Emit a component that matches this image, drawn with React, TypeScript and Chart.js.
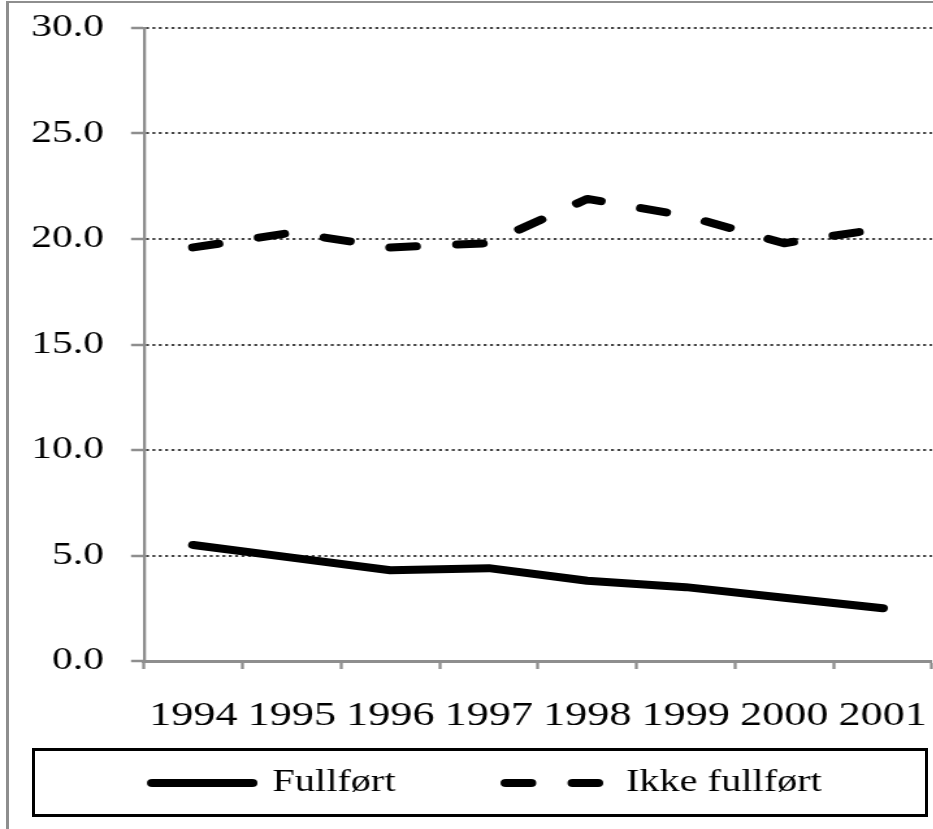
import React, { useEffect, useRef } from 'react';
import { Chart, registerables } from 'chart.js';

Chart.register(...registerables);

// ---- data ----
const years = ['1994', '1995', '1996', '1997', '1998', '1999', '2000', '2001'];
const fullfort = [5.5, 4.9, 4.3, 4.4, 3.8, 3.5, 3.0, 2.5];
const ikkeFullfort = [19.6, 20.3, 19.6, 19.8, 21.9, 21.1, 19.8, 20.5];
const seriesNames = ['Fullført', 'Ikke fullført'];
const yMin = 0;
const yMax = 30;
const yStep = 5;

// ---- style ----
const SX = 1.3; // horizontal stretch of the whole picture
const W = 718;
const H = 829;
const SERIF = "'Liberation Serif', 'Times New Roman', Times, serif";
const AXIS = '#8e8e8e';
const GRID = '#444444';
const DASH = [19.5, 32];

const labelClipFix = {
  id: 'labelClipFix',
  afterLayout(chart: any) {
    const y = chart.scales.y;
    if (y) y.left = 0;
  },
};

export default function App() {
  const ref = useRef<HTMLCanvasElement>(null);

  useEffect(() => {
    const canvas = ref.current;
    if (!canvas) return;
    const chart = new Chart(canvas, {
      type: 'line',
      data: {
        labels: years,
        datasets: [
          {
            label: seriesNames[0],
            data: fullfort,
            borderColor: '#000',
            backgroundColor: '#000',
            borderWidth: 8,
            borderCapStyle: 'round',
            borderJoinStyle: 'round',
            pointRadius: 0,
            pointHoverRadius: 0,
            tension: 0,
            fill: false,
          },
          {
            label: seriesNames[1],
            data: ikkeFullfort,
            borderColor: '#000',
            backgroundColor: '#000',
            borderWidth: 8,
            borderDash: DASH,
            borderCapStyle: 'round',
            borderJoinStyle: 'round',
            pointRadius: 0,
            pointHoverRadius: 0,
            tension: 0,
            fill: false,
          },
        ],
      },
      options: {
        responsive: false,
        animation: false,
        devicePixelRatio: 1,
        events: [],
        layout: { padding: { left: 32.3, right: 1.1, top: 28, bottom: 20.5 } },
        plugins: {
          tooltip: { enabled: false },
          legend: {
            position: 'bottom',
            align: 'center',
            labels: {
              usePointStyle: true,
              pointStyle: 'line',
              pointStyleWidth: 77,
              padding: 15,
              color: '#000',
              font: { family: SERIF, size: 31 },
              generateLabels: (c: any) => {
                const items = (Chart.defaults.plugins.legend.labels as any).generateLabels(c);
                return items.map((it: any, i: number) => {
                  const ds = c.data.datasets[i];
                  return {
                    ...it,
                    pointStyle: 'line',
                    lineDash: ds.borderDash || [],
                    lineCap: 'round',
                    lineWidth: ds.borderWidth,
                    strokeStyle: ds.borderColor,
                    text: i === 0 ? it.text + ' '.repeat(9) : it.text,
                  };
                });
              },
            },
          },
        },
        scales: {
          x: {
            offset: true,
            grid: {
              offset: true,
              drawOnChartArea: false,
              drawTicks: true,
              tickLength: 8,
              tickColor: AXIS,
              tickWidth: 2.3,
            },
            border: { color: AXIS, width: 3 },
            ticks: {
              color: '#000',
              font: { family: SERIF, size: 34 },
              padding: 26.6,
              maxRotation: 0,
              autoSkip: false,
            },
            afterFit: (s: any) => {
              s.height = 91.5;
              s.paddingLeft = 0;
              s.paddingRight = 0;
            },
          },
          y: {
            min: yMin,
            max: yMax,
            ticks: {
              stepSize: yStep,
              color: '#000',
              font: { family: SERIF, size: 32 },
              padding: 20.8,
              callback: (v: any) => Number(v).toFixed(1),
            },
            grid: {
              color: GRID,
              lineWidth: 2,
              tickLength: 10,
              tickColor: AXIS,
              tickWidth: 2.5,
              tickBorderDash: [],
            },
            border: { color: AXIS, width: 2.3, dash: [2.3, 2.6] },
            afterFit: (s: any) => {
              s.width = 78.5;
              s.paddingTop = 0;
              s.paddingBottom = 0;
            },
          },
        },
      },
      plugins: [labelClipFix],
    } as any);
    return () => chart.destroy();
  }, []);

  return (
    <div
      style={{
        position: 'fixed',
        left: 0,
        top: 0,
        width: 933,
        height: 829,
        overflow: 'hidden',
        background: '#fff',
      }}
    >
      <div
        style={{
          position: 'absolute',
          left: 6,
          top: 1,
          width: 2000,
          height: 2000,
          borderLeft: `3px solid ${AXIS}`,
          borderTop: `2px solid ${AXIS}`,
        }}
      />
      <canvas
        ref={ref}
        width={W}
        height={H}
        style={{
          position: 'absolute',
          left: 0,
          top: 0,
          width: W,
          height: H,
          transform: `scaleX(${SX})`,
          transformOrigin: '0 0',
        }}
      />
      <div
        style={{
          position: 'absolute',
          left: 32,
          top: 748,
          width: 896,
          height: 69,
          boxSizing: 'border-box',
          border: '3px solid #000',
        }}
      />
    </div>
  );
}
